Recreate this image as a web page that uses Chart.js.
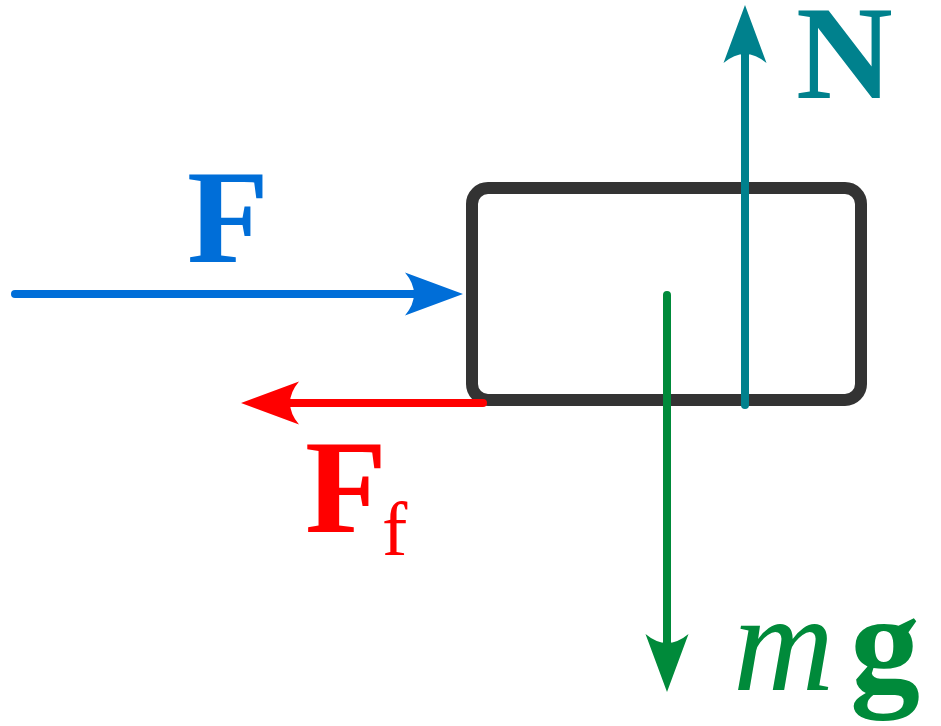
<!DOCTYPE html>
<html lang="en">
<head>
    <meta charset="utf-8">
    <script src="https://cdn.jsdelivr.net/npm/chart.js"></script>
    <title>Free body diagram</title>
    <style>
        html, body { margin: 0; padding: 0; background: #fff; }
        #wrap { width: 941px; height: 726px; }
    </style>
</head>
<body>
<div id="wrap"><canvas id="fbd" width="941" height="726"></canvas></div>

<script>
    // Diagram data (plot units = pixels of the 941x726 figure, y downwards)
    const arrowNames = ['F', 'Ff', 'N', 'mg'];
    const arrowTail = [[15, 294], [483, 403], [745, 405], [667, 295]];
    const arrowTip = [[463, 294], [241, 403], [745, 5], [667, 692]];

    // block: top-left and bottom-right of the outline centre line
    const blockCorners = [[472, 188], [861, 400]];

    // label pieces: text, left x, baseline y
    const labelText = ['F', 'F', 'f', 'N', 'm', 'g'];
    const labelX = [187, 305, 382, 796, 733, 850];
    const labelY = [262, 532, 555, 98, 690, 690];

    // styles
    const arrowColors = ['#006ed8', '#ff0000', '#00818d', '#008a3a'];
    const labelColors = ['#006ed8', '#ff0000', '#ff0000', '#00818d', '#008a3a', '#008a3a'];
    const labelFonts = [
        'bold 134px "Liberation Serif"',
        'bold 134px "Liberation Serif"',
        '76px "Liberation Serif"',
        'bold 134px "Liberation Serif"',
        'italic 140px "Liberation Serif"',
        'bold 140px "Liberation Serif"'
    ];
    const HEAD_LEN = 58, HEAD_HALF = 21.5, NECK = 48;

    // the shaft stops inside the head so the round cap does not poke past the tip
    function neckPoint(i) {
        const [x0, y0] = arrowTail[i];
        const [x1, y1] = arrowTip[i];
        const len = Math.hypot(x1 - x0, y1 - y0);
        return { x: x1 - (x1 - x0) / len * NECK, y: y1 - (y1 - y0) / len * NECK };
    }

    const datasets = arrowNames.map((name, i) => ({
        label: name,
        data: [{ x: arrowTail[i][0], y: arrowTail[i][1] }, neckPoint(i)],
        showLine: true,
        borderColor: arrowColors[i],
        borderWidth: 8,
        borderCapStyle: 'round',
        pointRadius: 0,
        clip: false
    }));

    const diagramPlugin = {
        id: 'diagram',
        beforeDatasetsDraw(chart) {
            const { ctx, scales: { x, y } } = chart;
            const x0 = x.getPixelForValue(blockCorners[0][0]);
            const y0 = y.getPixelForValue(blockCorners[0][1]);
            const x1 = x.getPixelForValue(blockCorners[1][0]);
            const y1 = y.getPixelForValue(blockCorners[1][1]);
            ctx.save();
            ctx.strokeStyle = '#333333';
            ctx.lineWidth = 12;
            ctx.beginPath();
            ctx.roundRect(x0, y0, x1 - x0, y1 - y0, 16);
            ctx.stroke();
            ctx.restore();
        },
        afterDatasetsDraw(chart) {
            const { ctx, scales: { x, y } } = chart;
            ctx.save();
            arrowNames.forEach((name, i) => {
                const tx = x.getPixelForValue(arrowTip[i][0]);
                const ty = y.getPixelForValue(arrowTip[i][1]);
                const bx = x.getPixelForValue(arrowTail[i][0]);
                const by = y.getPixelForValue(arrowTail[i][1]);
                const ang = Math.atan2(ty - by, tx - bx);
                ctx.save();
                ctx.translate(tx, ty);
                ctx.rotate(ang);
                ctx.fillStyle = arrowColors[i];
                ctx.beginPath();
                ctx.moveTo(0, 0);
                ctx.lineTo(-HEAD_LEN, -HEAD_HALF);
                ctx.quadraticCurveTo(-40, 0, -HEAD_LEN, HEAD_HALF);
                ctx.closePath();
                ctx.fill();
                ctx.restore();
            });
            ctx.textAlign = 'left';
            ctx.textBaseline = 'alphabetic';
            labelText.forEach((t, i) => {
                ctx.font = labelFonts[i];
                ctx.fillStyle = labelColors[i];
                ctx.fillText(t, x.getPixelForValue(labelX[i]), y.getPixelForValue(labelY[i]));
            });
            ctx.restore();
        }
    };

    new Chart(document.getElementById('fbd').getContext('2d'), {
        type: 'scatter',
        data: { datasets },
        options: {
            responsive: false,
            animation: false,
            events: [],
            layout: { padding: 0 },
            plugins: { legend: { display: false }, tooltip: { enabled: false } },
            scales: {
                x: { type: 'linear', min: 0, max: 941, display: false },
                y: { type: 'linear', min: 0, max: 726, reverse: true, display: false }
            }
        },
        plugins: [diagramPlugin]
    });
</script>
</body>
</html>
